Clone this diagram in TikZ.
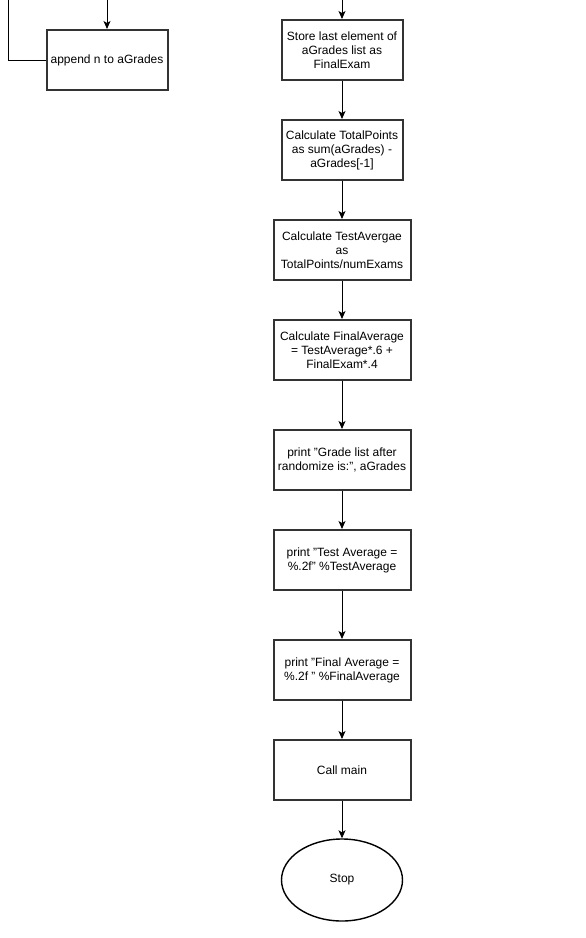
\documentclass[tikz,border=0pt]{standalone}
\usepackage{fontspec}
\setmainfont{Liberation Sans}
\usepackage{tikz}
\usetikzlibrary{shapes.geometric, arrows, arrows.meta}
\tikzstyle{process} = [rectangle, minimum width=121pt, minimum height=60pt, align=center, draw=black!80, line width=2pt, fill=white, font=\fontsize{12}{14}\selectfont]
\tikzstyle{wideprocess} = [process, minimum width=137pt]
\tikzstyle{stopnode} = [ellipse, minimum width=121pt, minimum height=82pt, draw=black, line width=1.4pt, fill=white, font=\fontsize{12}{14}\selectfont]
\tikzstyle{arrow} = [line width=1pt,-{Stealth[length=8pt,width=7pt,inset=2pt]}]
\tikzstyle{line} = [line width=1pt]

\begin{document}
\begin{tikzpicture}[x=1pt, y=1pt, node distance=100pt]
    \useasboundingbox (0,0) rectangle (586,-938);
    \node (append) [process] at (107,-60) {append n to aGrades};
    \node (store) [process] at (342,-50) {Store last element of\\aGrades list as\\FinalExam};
    \node (total) [process, below of=store] {Calculate TotalPoints\\as sum(aGrades) -\\aGrades[-1]};
    \node (testavg) [wideprocess, below of=total] {Calculate TestAvergae\\as\\TotalPoints/numExams};
    \node (finalavg) [wideprocess, below of=testavg] {Calculate FinalAverage\\= TestAverage*.6 +\\FinalExam*.4};
    \node (printlist) [wideprocess, below of=finalavg, yshift=-10pt] {print "Grade list after\\randomize is:", aGrades};
    \node (printtest) [wideprocess, below of=printlist] {print "Test Average =\\\%.2f" \%TestAverage};
    \node (printfinal) [wideprocess, below of=printtest, yshift=-10pt] {print "Final Average =\\\%.2f " \%FinalAverage};
    \node (callmain) [wideprocess, below of=printfinal] {Call main};
    \node (stop) [stopnode, below of=callmain, yshift=-10pt] {Stop};

    \coordinate (loopin) at (8,0);
    \coordinate (appendin) at (107,0);
    \coordinate (storein) at (342,0);

    \draw [line] (loopin) |- (append);
    \draw [arrow] (appendin) -- (append);
    \draw [arrow] (storein) -- (store);
    \draw [arrow] (store) -- (total);
    \draw [arrow] (total) -- (testavg);
    \draw [arrow] (testavg) -- (finalavg);
    \draw [arrow] (finalavg) -- (printlist);
    \draw [arrow] (printlist) -- (printtest);
    \draw [arrow] (printtest) -- (printfinal);
    \draw [arrow] (printfinal) -- (callmain);
    \draw [arrow] (callmain) -- (stop);
\end{tikzpicture}
\end{document}
